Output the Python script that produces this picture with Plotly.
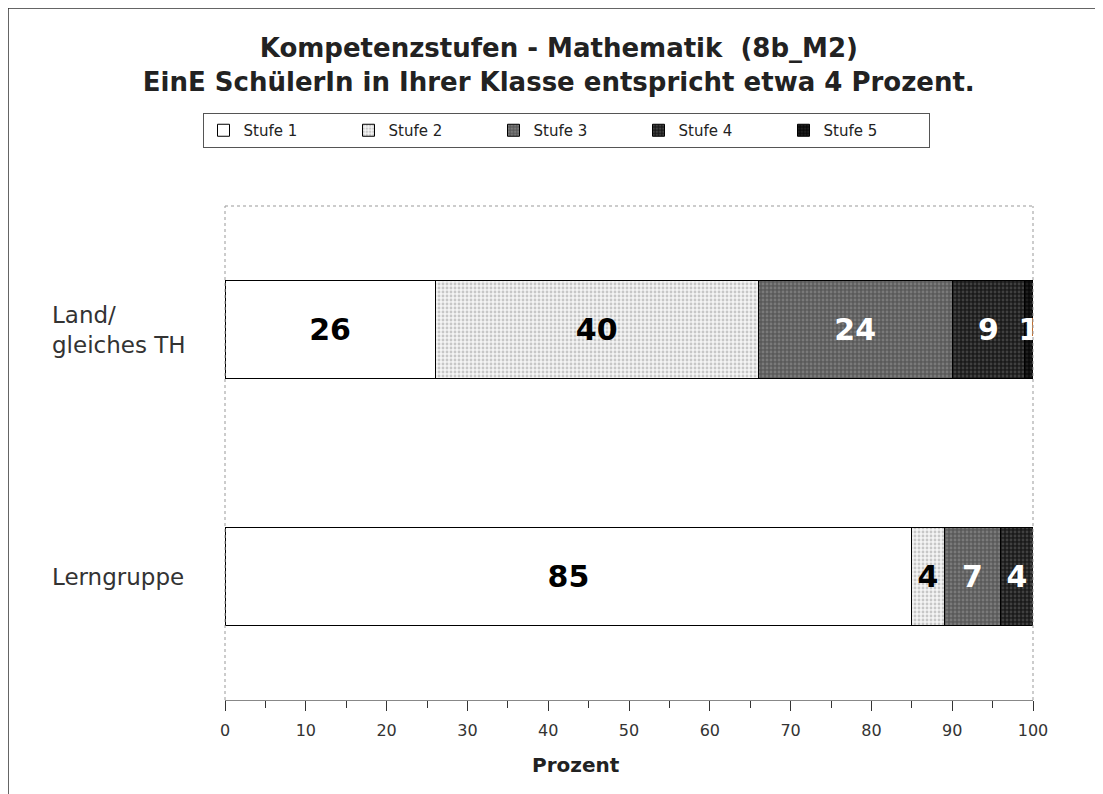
import plotly.graph_objects as go

categories = ["Lerngruppe", "Land/<br>gleiches TH"]
stufen = ["Stufe 1", "Stufe 2", "Stufe 3", "Stufe 4", "Stufe 5"]
# values per Stufe: [Lerngruppe, Land]
stufe1 = [85, 26]
stufe2 = [4, 40]
stufe3 = [7, 24]
stufe4 = [4, 9]
stufe5 = [0, 1]
values = [stufe1, stufe2, stufe3, stufe4, stufe5]

fill_bg = ["#ffffff", "#f4f4f4", "#5a5a5a", "#1a1a1a", "#080808"]
fill_fg = ["#ffffff", "#9a9a9a", "#9a9a9a", "#666666", "#333333"]
shapes_p = ["", ".", ".", ".", "."]
text_col = ["#000000", "#000000", "#ffffff", "#ffffff", "#ffffff"]

W, H = 1095, 786
L, R, T, B = 217, 70, 198, 94
PW, PH = W - L - R, H - T - B

fig = go.Figure()
for name, vals, bg, fg, sh, tc in zip(stufen, values, fill_bg, fill_fg, shapes_p, text_col):
    fig.add_trace(go.Bar(
        name=name, y=categories, x=vals, orientation="h", width=0.4,
        marker=dict(color=bg, line=dict(color="#000000", width=1),
                    pattern=dict(shape=sh, fgcolor=fg, bgcolor=bg, size=4, solidity=0.4)),
        text=["<b>%d</b>" % v if v > 0 else "" for v in vals],
        textposition="inside", insidetextanchor="middle",
        textfont=dict(family="DejaVu Sans", size=30, color=tc),
        cliponaxis=True,
    ))

fig.update_layout(
    barmode="stack",
    width=W, height=H,
    margin=dict(l=L, r=R, t=T, b=B),
    paper_bgcolor="white", plot_bgcolor="white",
    uniformtext=dict(mode="show", minsize=30),
    font=dict(family="DejaVu Sans", color="#222222"),
    title=dict(text="<b>Kompetenzstufen - Mathematik  (8b_M2)<br>EinE SchülerIn in Ihrer Klasse entspricht etwa 4 Prozent.</b>",
               x=0.503, xanchor="center", y=1 - 49 / H, yanchor="middle",
               font=dict(size=26, color="#222222")),
    legend=dict(orientation="h", x=(558 - L) / PW, xanchor="center", y=1 + (198 - 140) / PH,
                yanchor="bottom",
                bordercolor="#555555", borderwidth=1, font=dict(size=15, color="#222222"),
                entrywidth=100, traceorder="normal"),
    showlegend=True,
)
fig.update_xaxes(range=[0, 100], dtick=10, ticks="outside", ticklen=10, tickcolor="#333333",
                 showline=True, linecolor="#888888", mirror=False, showgrid=False,
                 minor=dict(dtick=5, ticks="outside", ticklen=7, tickcolor="#333333"),
                 tickfont=dict(size=16, color="#333333"), ticklabelstandoff=6,
                 zeroline=False)
fig.update_yaxes(range=[-0.5, 1.5], showticklabels=False, showgrid=False, zeroline=False,
                 showline=False)

# axis title (placed left of centre as in the original)
fig.add_annotation(text="<b>Prozent</b>", xref="paper", yref="paper", x=(568 - L) / PW,
                   y=-65 / PH, yanchor="middle", xanchor="center",
                   showarrow=False, font=dict(size=20, color="#222222"))

# dotted plot frame (top, left, right)
for x0, x1, y0, y1 in [(0, 1, 1, 1), (0, 0, 0, 1), (1, 1, 0, 1)]:
    fig.add_shape(type="line", xref="paper", yref="paper", x0=x0, x1=x1, y0=y0, y1=y1,
                  line=dict(color="#999999", width=1, dash="dot"))
# outer frame
fig.add_shape(type="rect", xref="paper", yref="paper",
              x0=-(L - 0) / PW, x1=(W - 4 - L) / PW, y0=-(B + 20) / PH, y1=1 + (T - 0) / PH,
              line=dict(color="#333333", width=1.5))

# left-aligned category labels
for cat in categories:
    fig.add_annotation(text=cat, xref="paper", yref="y", x=-(L - 42) / PW, y=cat, xanchor="left",
                       align="left", showarrow=False,
                       font=dict(family="DejaVu Sans", size=23, color="#333333"))

fig.write_html("out.html")
